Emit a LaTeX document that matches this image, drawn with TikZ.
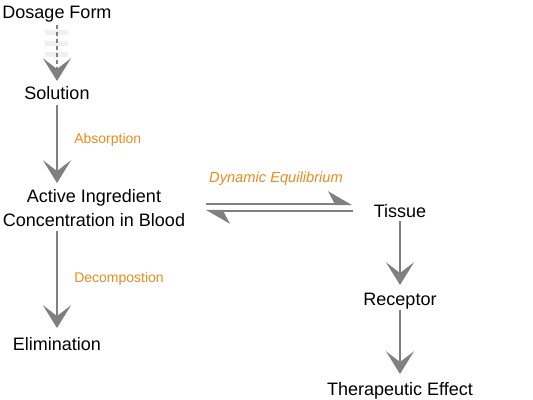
\documentclass[tikz,border=0pt]{standalone}
\usepackage{fontspec}
\setmainfont{Liberation Sans}
\usetikzlibrary{arrows.meta}
\definecolor{arrowgray}{RGB}{128,128,128}
\definecolor{labelorange}{RGB}{232,140,28}
\definecolor{palebar}{RGB}{240,240,240}
\begin{document}
\begin{tikzpicture}[x=0.75pt,y=-0.75pt,
  txt/.style={inner sep=0pt, anchor=base, font=\fontsize{13.5pt}{16.5pt}\selectfont, text=black},
  lbl/.style={inner sep=0pt, anchor=base west, font=\fontsize{10.5pt}{12pt}\selectfont, text=labelorange},
  flow/.style={draw=arrowgray, line width=1.6pt, -{Stealth[length=17pt,width=21pt,inset=8pt,fill=arrowgray]}},
  harp/.style={draw=arrowgray, line width=1.6pt, -{Stealth[harpoon,length=16.5pt,width=19pt,inset=5pt,fill=arrowgray]}},
  bar/.style={fill=palebar, draw=none}]
\useasboundingbox (0,0) rectangle (533,400);
% pale bars behind dashed arrow
\fill[palebar] (45,30) rectangle (68,35);
\fill[palebar] (45,41) rectangle (68,46);
\fill[palebar] (45,52) rectangle (68,57);
% nodes
\node[txt] (dos) at (57,18) {Dosage Form};
\node[txt] (sol) at (57,99) {Solution};
\node[txt, align=center, anchor=center] (act) at (94,208) {Active Ingredient\\[2pt]Concentration in Blood};
\node[txt] (eli) at (57,350) {Elimination};
\node[txt] (tis) at (400,217) {Tissue};
\node[txt] (rec) at (400,305) {Receptor};
\node[txt] (the) at (400,395) {Therapeutic Effect};
\node[lbl] (abs) at (74,143) {Absorption};
\node[lbl] (dec) at (74,282) {Decompostion};
\node[lbl, font=\fontsize{11pt}{13pt}\selectfont\itshape, anchor=base] (dyn) at (276,182) {Dynamic Equilibrium};
% connectors
\draw[flow, dash pattern=on 3pt off 2.25pt] (dos.south |- 0,25) -- (sol.north |- 0,81);
\draw[flow] (sol.south |- 0,105) -- (sol.south |- 0,183);
\draw[flow] (eli.north |- 0,231) -- (eli.north |- 0,328);
\draw[flow] (tis.south |- 0,221) -- (rec.north |- 0,285);
\draw[flow] (rec.south |- 0,310) -- (the.north |- 0,374);
\coordinate (eqa) at (206,204);
\coordinate (eqb) at (352,204);
\coordinate (eqc) at (353,211);
\coordinate (eqd) at (206,211);
\draw[harp] (eqa) -- (eqb);
\draw[harp] (eqc) -- (eqd);
\end{tikzpicture}
\end{document}
